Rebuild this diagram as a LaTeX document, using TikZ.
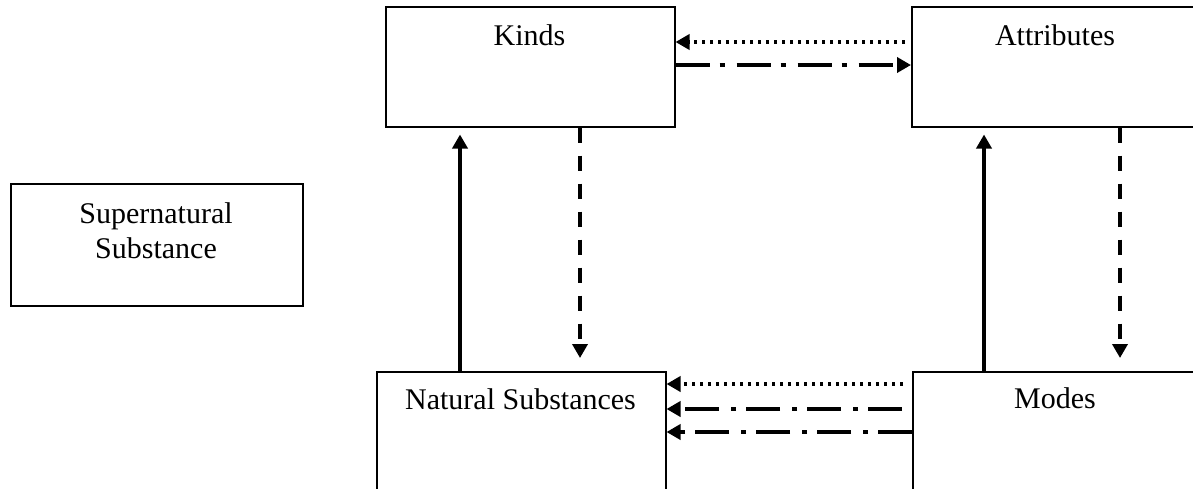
\documentclass[tikz,border=0pt]{standalone}
\usepackage{fontspec}
\setmainfont{Liberation Serif}
\usetikzlibrary{arrows.meta}
\begin{document}
\begin{tikzpicture}[x=1pt,y=-1pt,
  box/.style={draw, line width=1.5pt, rectangle, inner sep=0pt, anchor=north west},
  lbl/.style={font=\fontsize{30}{35}\selectfont, anchor=base, inner sep=0pt},
  conn/.style={line width=3.6pt, -{Triangle[length=14pt,width=15pt]}},
  dotline/.style={conn, dash pattern=on 3.5pt off 4.5pt},
  dashline/.style={conn, dash pattern=on 15pt off 13pt},
  dashdot/.style={conn, dash pattern=on 34pt off 10pt on 5pt off 12pt},
]
\useasboundingbox (0,0) rectangle (1193,488);
\clip (0,0) rectangle (1193,488);

% boxes
\node[box, minimum width=289pt, minimum height=120pt] (kinds) at (385,6) {};
\node[box, minimum width=288pt, minimum height=120pt] (attr) at (911,6) {};
\node[box, minimum width=289pt, minimum height=150pt] (nat) at (376,371) {};
\node[box, minimum width=288pt, minimum height=150pt] (modes) at (912,371) {};
\node[box, minimum width=292pt, minimum height=122pt] (super) at (10,183) {};

% labels
\node[lbl] (kindsT) at (529.5,45) {Kinds};
\node[lbl] (attrT) at (1055,45) {Attributes};
\node[lbl] (natT) at (520.5,409) {Natural Substances};
\node[lbl] (modesT) at (1055,408) {Modes};
\node[lbl] (superT1) at (156,223) {Supernatural};
\node[lbl] (superT2) at (156,258) {Substance};

% helper coordinates
\coordinate (t1) at (0,42);
\coordinate (t2) at (0,65);
\coordinate (b1) at (0,384);
\coordinate (b2) at (0,409);
\coordinate (b3) at (0,432);
\coordinate (x1) at (460,0);
\coordinate (x2) at (580,0);
\coordinate (x3) at (984,0);
\coordinate (x4) at (1120,0);

% connectors
\draw[dotline, shorten <=6pt] (attr.west |- t1) -- (kinds.east |- t1);
\draw[dashdot] (kinds.east |- t2) -- (attr.west |- t2);
\draw[conn, shorten >=7pt] (nat.north -| x1) -- (kinds.south -| x1);
\draw[dashline, shorten >=13pt] (kinds.south -| x2) -- (nat.north -| x2);
\draw[conn, shorten >=7pt] (modes.north -| x3) -- (attr.south -| x3);
\draw[dashline, shorten >=13pt] (attr.south -| x4) -- (modes.north -| x4);
\draw[dotline, shorten <=9pt] (modes.west |- b1) -- (nat.east |- b1);
\draw[dashdot, shorten <=10pt] (modes.west |- b2) -- (nat.east |- b2);
\draw[dashdot] (modes.west |- b3) -- (nat.east |- b3);
\end{tikzpicture}
\end{document}
